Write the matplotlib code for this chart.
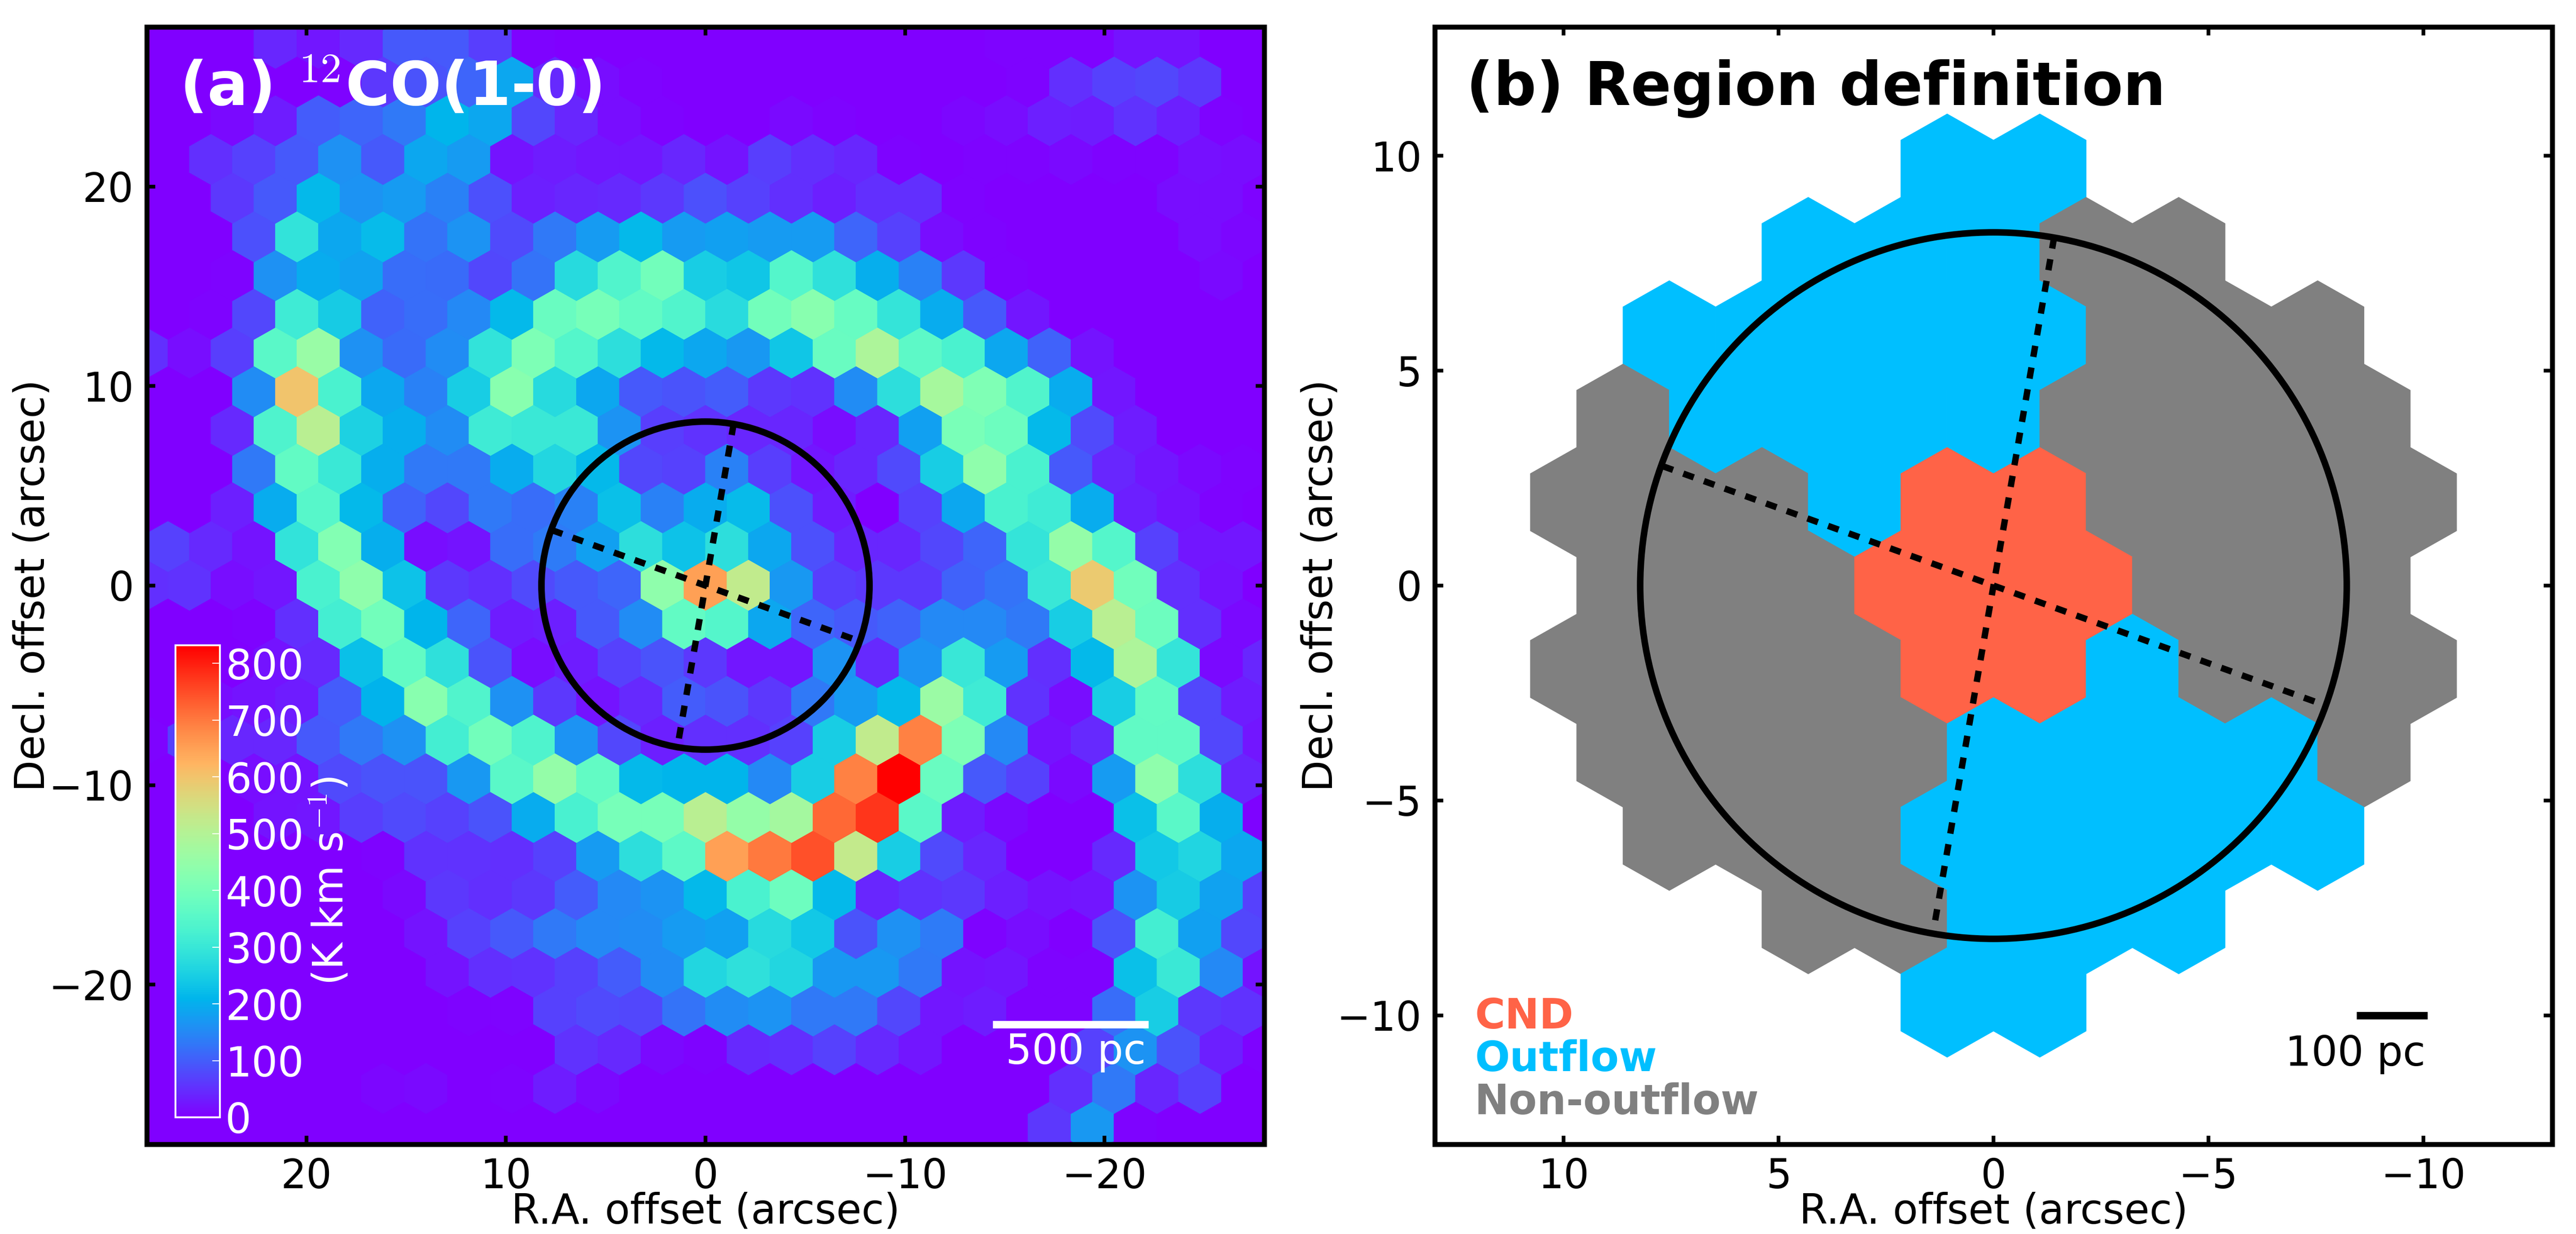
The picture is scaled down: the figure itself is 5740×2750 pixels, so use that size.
import matplotlib
matplotlib.use("Agg")
import matplotlib.pyplot as plt
import numpy as np
from matplotlib.collections import PolyCollection
from matplotlib.patches import Circle

plt.rcParams["font.family"] = "DejaVu Sans"
plt.rcParams["mathtext.fontset"] = "cm"

# ============================================================
#  DATA - CO(1-0) integrated intensity per hexagon, K km/s
#  even rows: 27 cells, x = +28 ... -28 ; odd rows: 26 cells
# ============================================================

row_p14 = [0,0,0,40,25,45,95,95,65,5,0,0,0,0, 0,0,0,0,0,0,5,5,5,20,20,0,0]
row_p13 = [0,0,0,0,5,60,90,110,190,45,15,5,0, 0,0,0,0,0,0,0,5,50,70,75,60,0]
row_p12 = [0,0,10,30,100,110,130,210,190,75,40,15,5,0, 0,10,5,0,0,8,15,35,30,55,35,5,0]
row_p11 = [0,50,70,95,160,95,190,175,20,30,25,25,40, 20,65,50,40,5,0,5,5,12,5,5,18,15]
row_p10 = [0,0,60,95,215,165,175,140,85,35,40,45,60,85, 70,50,35,50,50,5,0,0,0,0,15,15,5]
row_p9 = [0,0,85,290,190,220,125,165,80,130,175,215,175, 180,175,175,110,70,15,5,0,0,0,0,15,8]
row_p8 = [0,0,5,160,195,185,120,115,75,125,270,340,395,250, 235,345,285,200,140,60,5,0,0,0,0,10,0]
row_p7 = [0,5,75,310,245,105,120,150,215,380,400,370,340, 275,395,430,375,295,195,95,25,0,0,0,0,0]
row_p6 = [50,15,65,355,455,160,115,155,290,410,345,280,215,190, 170,235,380,490,360,330,190,105,20,0,0,0,0]
row_p5 = [0,0,155,600,330,190,140,250,430,270,190,95,90, 100,60,55,155,280,480,415,340,195,25,0,0,0]
row_p4 = [0,0,45,335,510,255,200,155,310,305,305,165,65,55, 40,40,15,40,180,405,385,215,80,30,0,0,0]
row_p3 = [0,0,130,370,305,200,130,130,195,265,215,75,70, 140,65,25,40,80,250,440,330,95,40,25,10,5]
row_p2 = [0,0,35,195,350,215,105,75,130,120,140,225,140,195, 220,85,30,0,70,190,330,310,195,35,20,5,0]
row_p1 = [70,45,20,290,420,200,15,20,120,135,180,280,230, 280,190,85,40,40,75,110,295,450,345,70,25,25]
row_0 = [50,55,15,25,330,440,230,60,50,80,95,110,440,650, 520,170,65,60,60,105,125,300,590,390,50,20,0]
row_m1 = [0,0,5,50,320,395,210,110,30,35,95,155,370, 345,190,110,95,105,150,150,130,250,510,385,50,10]
row_m2 = [0,0,0,20,45,225,370,285,90,15,30,70,90,60, 25,25,165,45,165,300,175,50,215,490,295,10,40]
row_m3 = [0,15,20,30,100,205,430,340,160,60,20,45,100, 90,60,130,175,215,460,310,55,15,250,370,75,30]
row_m4 = [5,70,40,40,95,130,160,320,395,335,165,75,35,50, 50,70,250,520,690,410,150,20,45,365,365,75,25]
row_m5 = [0,0,15,20,80,90,90,170,355,450,370,215,210, 210,150,250,690,830,380,95,70,10,175,440,280,40]
row_m6 = [0,0,0,20,25,65,80,70,90,195,325,400,400,510, 450,475,720,775,355,30,10,0,0,225,355,200,5]
row_m7 = [0,0,0,0,0,5,55,55,50,70,175,280,360, 650,700,745,525,250,80,40,0,0,45,240,260,190]
row_m8 = [0,0,0,0,0,0,10,60,50,60,100,150,165,215, 330,385,215,40,55,60,35,20,25,165,245,185,70]
row_m9 = [0,0,0,0,0,0,20,70,95,130,150,155,175, 180,270,240,90,160,135,5,15,0,90,320,180,75]
row_m10 = [0,0,0,0,0,0,0,20,50,55,70,100,155,265, 285,265,170,170,130,20,25,5,5,225,305,150,20]
row_m11 = [0,0,0,0,0,0,0,5,5,70,80,75,125, 155,165,130,130,75,25,30,5,5,120,250,60,55]
row_m12 = [0,0,0,0,0,0,0,0,0,0,55,45,10,5, 45,50,70,45,25,0,0,0,70,165,90,35,5]
row_m13 = [0,0,0,0,0,8,12,3,6,30,10,3,0, 0,0,0,0,0,0,0,0,50,130,40,70,0]
row_m14 = [0,0,0,0,0,0,0,0,3,3,0,0,0,0, 0,0,0,0,0,0,0,60,170,5,0,0,0]

co_rows = [row_p14, row_p13, row_p12, row_p11, row_p10, row_p9, row_p8, row_p7, row_p6,
           row_p5, row_p4, row_p3, row_p2, row_p1, row_0, row_m1, row_m2, row_m3, row_m4,
           row_m5, row_m6, row_m7, row_m8, row_m9, row_m10, row_m11, row_m12, row_m13, row_m14]
co_row_numbers = list(range(14, -15, -1))

# Region map, panel b. C = CND, O = outflow, G = non-outflow
reg_p5 = "OO"
reg_p4 = "OOOGG"
reg_p3 = "OOOOOGGG"
reg_p2 = "GOOOOGGGG"
reg_p1 = "GGGOCCGGGG"
reg_0 = "GGGCCCGGG"
reg_m1 = "GGGGCCOGGG"
reg_m2 = "GGGGOOOOG"
reg_m3 = "GGGOOOOO"
reg_m4 = "GGOOO"
reg_m5 = "OO"

region_rows = [reg_p5, reg_p4, reg_p3, reg_p2, reg_p1, reg_0, reg_m1, reg_m2, reg_m3, reg_m4, reg_m5]
region_row_numbers = list(range(5, -6, -1))
region_colors = {"C": "tomato", "O": "deepskyblue", "G": "gray"}

circle_radius = 8.22
line_ends_x = [[-1.41, 1.41], [7.7, -7.7]]
line_ends_y = [[8.1, -8.1], [2.78, -2.78]]

cbar_ticks = [0, 100, 200, 300, 400, 500, 600, 700, 800]

# hexagon grid, arcsec
col_pitch = 2.155
row_pitch = 1.94
hex_apex = 1.275
hex_shoulder = 0.665

FIG_W, FIG_H = 5740, 2750


def axes_from_pixels(fig, left, right, top, bottom):
    return fig.add_axes([left / FIG_W, 1 - bottom / FIG_H,
                         (right - left) / FIG_W, (bottom - top) / FIG_H])


def hexagon(xc, yc):
    hw = col_pitch / 2
    return [(xc - hw, yc - hex_shoulder), (xc, yc - hex_apex),
            (xc + hw, yc - hex_shoulder), (xc + hw, yc + hex_shoulder),
            (xc, yc + hex_apex), (xc - hw, yc + hex_shoulder)]


def row_centres(row_number, n_cells):
    # cells run left to right on the sky, so x decreases
    half = (n_cells - 1) / 2
    return [(half - i) * col_pitch for i in range(n_cells)], row_number * row_pitch


def style_axes(ax, ticks):
    ax.set_xticks(ticks)
    ax.set_yticks(ticks)
    ax.tick_params(direction="in", top=True, right=True, length=4.5, width=2,
                   labelsize=21.5, pad=7)
    for spine in ax.spines.values():
        spine.set_linewidth(2.65)
    ax.set_xlabel("R.A. offset (arcsec)", fontsize=22, labelpad=-2.8)
    ax.set_ylabel("Decl. offset (arcsec)", fontsize=22, labelpad=-2.2)


def draw_circle_and_lines(ax):
    ax.add_patch(Circle((0, 0), circle_radius, fill=False, ec="k", lw=3.5, zorder=3))
    for xs, ys in zip(line_ends_x, line_ends_y):
        ax.plot(xs, ys, color="k", lw=3.4, dashes=(1.76, 1.7), zorder=3)


fig = plt.figure(figsize=(FIG_W / 300, FIG_H / 300), dpi=300)

# ------------------------------------------------------------
# (a) CO map
# ------------------------------------------------------------
ax_a = axes_from_pixels(fig, 327, 2817, 60, 2550)
ax_a.set_facecolor(plt.get_cmap("rainbow")(0.0))

polys, vals = [], []
for number, row in zip(co_row_numbers, co_rows):
    xs, y = row_centres(number, len(row))
    for x, v in zip(xs, row):
        polys.append(hexagon(x, y))
        vals.append(v)

hex_map = PolyCollection(polys, array=np.array(vals, dtype=float), cmap="rainbow",
                         edgecolors="face", linewidths=0.3, zorder=1)
hex_map.set_clim(0, 832)
ax_a.add_collection(hex_map)
draw_circle_and_lines(ax_a)

ax_a.set_xlim(28, -28)
ax_a.set_ylim(-28, 28)
style_axes(ax_a, [-20, -10, 0, 10, 20])

ax_a.text(26.35, 24.95, "(a) $^{12}$CO(1-0)", color="white", fontsize=32.3,
          fontweight="bold", ha="left", va="center")
ax_a.plot([-14.4, -22.2], [-22, -22], color="white", lw=4, solid_capstyle="butt")
ax_a.text(-18.55, -23.4, "500 pc", color="white", fontsize=22, ha="center", va="center")

cax = axes_from_pixels(fig, 391, 490, 1438, 2490)
cbar = fig.colorbar(hex_map, cax=cax)
cbar.set_ticks(cbar_ticks)
cbar.outline.set_edgecolor("white")
cbar.outline.set_linewidth(1)
cax.tick_params(direction="in", length=4, width=0.5, color="white", labelcolor="white",
                labelsize=22, pad=3)
ax_a.text(18.8, -14.8, r"(K km s$^{-1}$)", color="white", fontsize=22, rotation=90,
          ha="center", va="center")

# ------------------------------------------------------------
# (b) Regions
# ------------------------------------------------------------
ax_b = axes_from_pixels(fig, 3197, 5687, 60, 2550)

polys, cols = [], []
for number, row in zip(region_row_numbers, region_rows):
    xs, y = row_centres(number, len(row))
    for x, r in zip(xs, row):
        polys.append(hexagon(x, y))
        cols.append(region_colors[r])

ax_b.add_collection(PolyCollection(polys, facecolors=cols, edgecolors="face",
                                   linewidths=0.3, zorder=1))
draw_circle_and_lines(ax_b)

ax_b.set_xlim(13, -13)
ax_b.set_ylim(-13, 13)
style_axes(ax_b, [-10, -5, 0, 5, 10])

ax_b.text(12.27, 11.56, "(b) Region definition", color="k", fontsize=32,
          fontweight="bold", ha="left", va="center")
ax_b.text(12.07, -10.03, "CND", color=region_colors["C"], fontsize=22, fontweight="bold",
          ha="left", va="center")
ax_b.text(12.07, -11.03, "Outflow", color=region_colors["O"], fontsize=22, fontweight="bold",
          ha="left", va="center")
ax_b.text(12.07, -12.03, "Non-outflow", color=region_colors["G"], fontsize=22, fontweight="bold",
          ha="left", va="center")
ax_b.plot([-8.45, -10.1], [-10, -10], color="k", lw=4, solid_capstyle="butt")
ax_b.text(-10.05, -10.9, "100 pc", color="k", fontsize=22, ha="right", va="center")

fig.savefig("out.png", dpi=300)
